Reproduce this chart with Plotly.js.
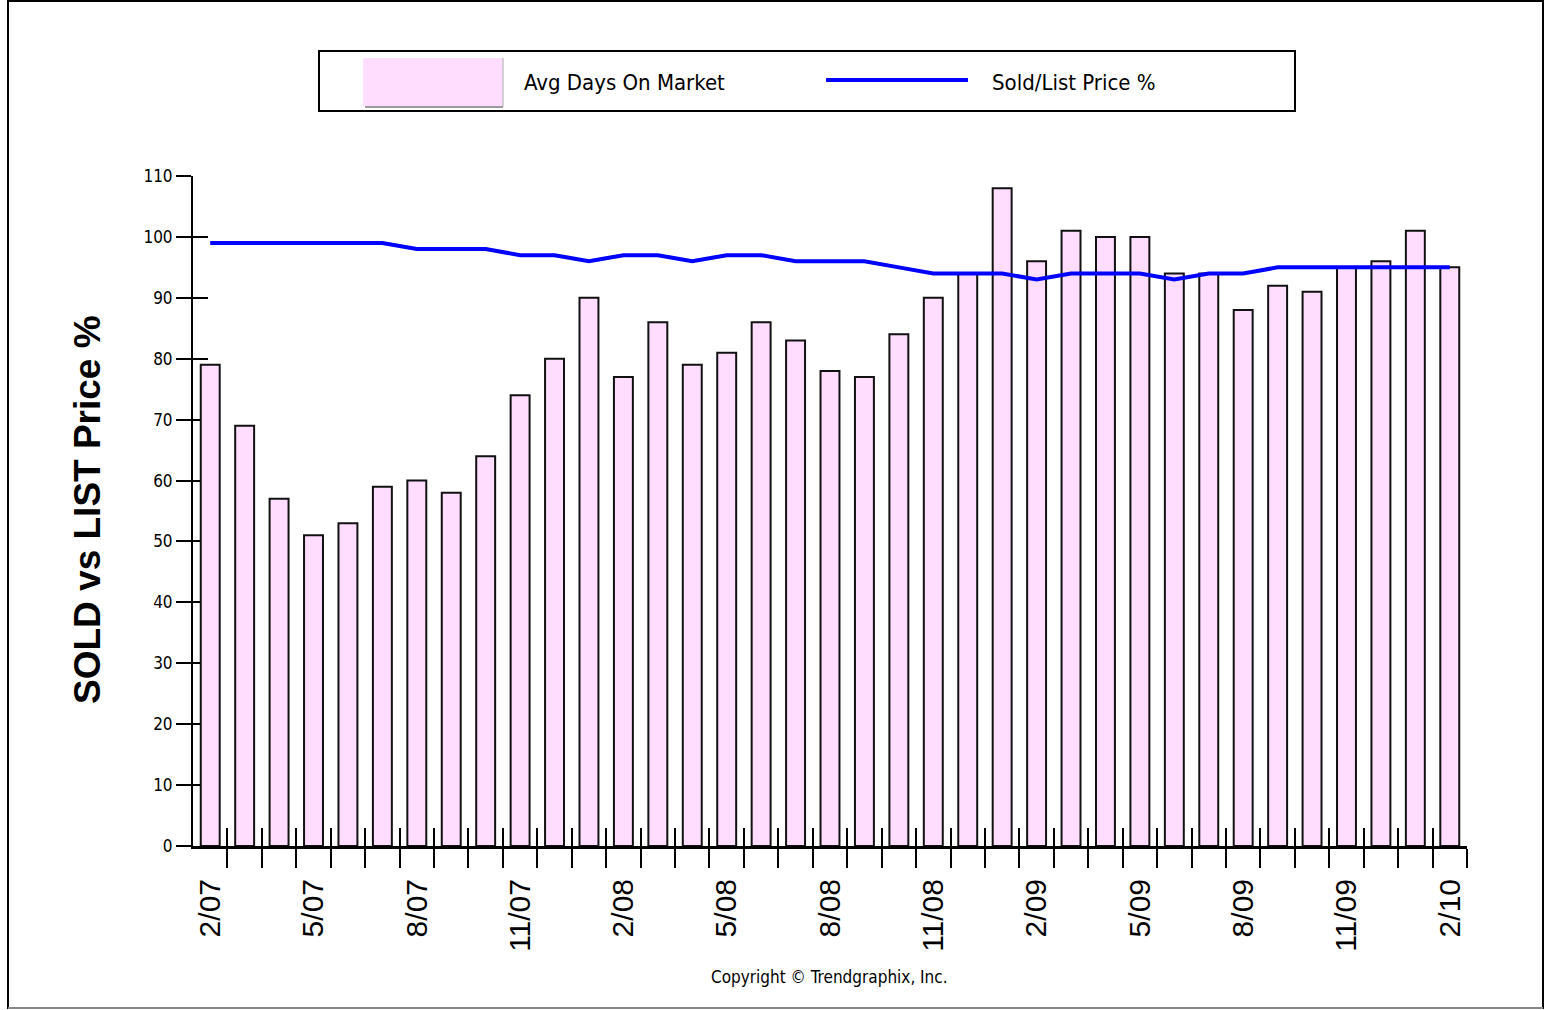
<!DOCTYPE html>
<html>
<head>
<meta charset="utf-8">
<script src="https://cdn.plot.ly/plotly-3.0.1.min.js"></script>
<style>
  html, body { margin: 0; padding: 0; background: #ffffff; }
  #chart { width: 1546px; height: 1010px; }
</style>
</head>
<body>
<div id="chart"></div>
<script>
// ---- data ----
const months = ['2/07','3/07','4/07','5/07','6/07','7/07','8/07','9/07','10/07','11/07','12/07','1/08',
                '2/08','3/08','4/08','5/08','6/08','7/08','8/08','9/08','10/08','11/08','12/08','1/09',
                '2/09','3/09','4/09','5/09','6/09','7/09','8/09','9/09','10/09','11/09','12/09','1/10',
                '2/10'];
const daysOnMarket = [79,69,57,51,53,59,60,58,64,74,80,90,
                      77,86,79,81,86,83,78,77,84,90,94,108,
                      96,101,100,100,94,94,88,92,91,95,96,101,
                      95];
const soldListPct = [99,99,99,99,99,99,98,98,98,97,97,96,
                     97,97,96,97,97,96,96,96,95,94,94,94,
                     93,94,94,94,93,94,94,95,95,95,95,95,
                     95];
const yTicks = [0,10,20,30,40,50,60,70,80,90,100,110];
const seriesNames = ['Avg Days On Market', 'Sold/List Price %'];
const yTitle = 'SOLD vs LIST Price %';
const copyright = 'Copyright \u00A9 Trendgraphix, Inc.';

// ---- derived ----
const idx = months.map((m, i) => i);
const labelIdx = idx.filter(i => i % 3 === 0);
const labelText = labelIdx.map(i => months[i]);
const boundaries = idx.map(i => i + 0.5);

// ---- layout geometry (pixels) ----
const W = 1546, H = 1010;
const L = 193, R = 1467, T = 176, B = 846;
const pw = R - L, ph = B - T;
const px = x => (x - L) / pw;
const py = y => (B - y) / ph;

const narrow = '"Liberation Sans Narrow", "DejaVu Sans Condensed", "Liberation Sans", Arial, sans-serif';

const traces = [
  {
    type: 'bar', x: idx, y: daysOnMarket, name: seriesNames[0],
    xaxis: 'x', yaxis: 'y',
    marker: { color: '#ffddff', line: { color: '#111111', width: 2 } },
    hoverinfo: 'y'
  },
  {
    type: 'scatter', mode: 'lines', x: idx, y: soldListPct, name: seriesNames[1],
    xaxis: 'x2', yaxis: 'y2',
    line: { color: '#0000ff', width: 4 },
    hoverinfo: 'y'
  }
];

const axisCommon = { showgrid: false, zeroline: false, fixedrange: true };

const layout = {
  width: W, height: H,
  margin: { l: L, r: W - R, t: T, b: H - B, pad: 0 },
  paper_bgcolor: '#ffffff', plot_bgcolor: '#ffffff',
  showlegend: false,
  bargap: 0.45,
  xaxis: Object.assign({}, axisCommon, {
    range: [-0.5, months.length - 0.5],
    tickmode: 'array', tickvals: labelIdx, ticktext: labelText,
    ticks: '', tickangle: -90, ticklabelstandoff: 18,
    tickfont: { family: '"Liberation Sans", Arial, sans-serif', size: 30, color: '#000' },
    showline: true, linecolor: '#000', linewidth: 3,
    minor: { tickmode: 'array', tickvals: boundaries, ticks: 'outside', ticklen: 19, tickwidth: 2, tickcolor: '#000', showgrid: false }
  }),
  yaxis: Object.assign({}, axisCommon, {
    range: [0, 110],
    tickmode: 'array', tickvals: yTicks,
    ticks: 'outside', ticklen: 15, tickwidth: 2, tickcolor: '#000',
    tickfont: { family: narrow, size: 17, color: '#000' },
    showline: true, linecolor: '#000', linewidth: 2
  }),
  xaxis2: Object.assign({}, axisCommon, {
    overlaying: 'x', side: 'bottom', anchor: 'y2',
    range: [-0.5, months.length - 0.5],
    tickmode: 'array', tickvals: boundaries,
    ticks: 'inside', ticklen: 18, tickwidth: 2, tickcolor: '#000',
    showticklabels: false, showline: false
  }),
  yaxis2: Object.assign({}, axisCommon, {
    overlaying: 'y', side: 'left', anchor: 'x2',
    range: [0, 110],
    tickmode: 'array', tickvals: yTicks,
    ticks: 'inside', ticklen: 15, tickwidth: 2, tickcolor: '#000',
    showticklabels: false, showline: false, layer: 'below traces'
  }),
  shapes: [
    // outer frame
    { type: 'rect', xref: 'paper', yref: 'paper', x0: px(8), x1: px(1543), y0: py(1008), y1: py(1), line: { color: '#000', width: 2 }, fillcolor: 'rgba(0,0,0,0)', layer: 'below' },
    { type: 'line', xref: 'paper', yref: 'paper', x0: px(8), x1: px(1543), y0: py(1008), y1: py(1008), line: { color: '#888', width: 2 } },
    // legend box
    { type: 'rect', xref: 'paper', yref: 'paper', x0: px(319), x1: px(1295), y0: py(111), y1: py(51), line: { color: '#000', width: 2 }, fillcolor: '#ffffff' },
    // bar swatch
    { type: 'rect', xref: 'paper', yref: 'paper', x0: px(363), x1: px(503), y0: py(106), y1: py(58), line: { width: 0 }, fillcolor: '#ffddff' },
    { type: 'line', xref: 'paper', yref: 'paper', x0: px(365), x1: px(503), y0: py(107), y1: py(107), line: { color: '#999', width: 2 } },
    { type: 'line', xref: 'paper', yref: 'paper', x0: px(503), x1: px(503), y0: py(107), y1: py(58), line: { color: '#aaa', width: 1 } },
    // line swatch
    { type: 'line', xref: 'paper', yref: 'paper', x0: px(826), x1: px(968), y0: py(80), y1: py(80), line: { color: '#0000ff', width: 4 } }
  ],
  annotations: [
    { xref: 'paper', yref: 'paper', x: px(522), y: py(82), xanchor: 'left', yanchor: 'middle', showarrow: false,
      text: seriesNames[0], font: { family: narrow, size: 22, color: '#000' } },
    { xref: 'paper', yref: 'paper', x: px(990), y: py(82), xanchor: 'left', yanchor: 'middle', showarrow: false,
      text: seriesNames[1], font: { family: narrow, size: 22, color: '#000' } },
    { xref: 'paper', yref: 'paper', x: px(87), y: py(510), xanchor: 'center', yanchor: 'middle', showarrow: false,
      textangle: -90, text: '<b>' + yTitle + '</b>', font: { family: '"Liberation Sans", Arial, sans-serif', size: 37, color: '#000' } },
    { xref: 'paper', yref: 'paper', x: px(829), y: py(977), xanchor: 'center', yanchor: 'middle', showarrow: false,
      text: copyright, font: { family: narrow, size: 17, color: '#000' } }
  ]
};

Plotly.newPlot('chart', traces, layout, { staticPlot: true, displayModeBar: false });
</script>
</body>
</html>
